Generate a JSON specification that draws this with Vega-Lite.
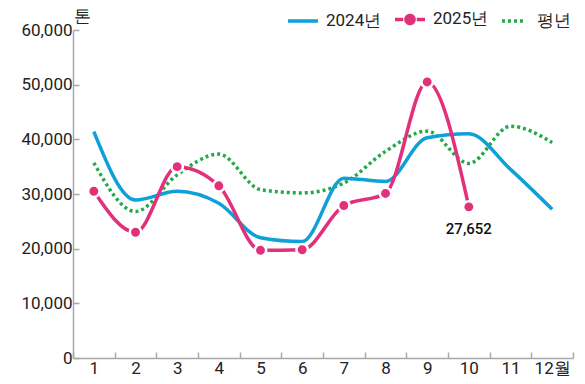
{
  "$schema": "https://vega.github.io/schema/vega-lite/v6.json",
  "width": 500,
  "height": 328,
  "autosize": {"type": "none"},
  "padding": {"left": 73, "top": 30, "right": 12, "bottom": 26},
  "config": {
    "view": {"stroke": null},
    "font": "Roboto",
    "axis": {
      "labelFont": "Roboto",
      "labelFontSize": 17,
      "labelColor": "#222222",
      "domainColor": "#a8a8a8",
      "domainWidth": 1.5,
      "tickColor": "#a8a8a8",
      "tickWidth": 1.5,
      "grid": false
    }
  },
  "data": {
    "values": [
      {"month": 1, "series": "2024년", "value": 41400},
      {"month": 2, "series": "2024년", "value": 28900},
      {"month": 3, "series": "2024년", "value": 30500},
      {"month": 4, "series": "2024년", "value": 28300},
      {"month": 5, "series": "2024년", "value": 22000},
      {"month": 6, "series": "2024년", "value": 21300},
      {"month": 7, "series": "2024년", "value": 32900},
      {"month": 8, "series": "2024년", "value": 32300},
      {"month": 9, "series": "2024년", "value": 40300},
      {"month": 10, "series": "2024년", "value": 41000},
      {"month": 11, "series": "2024년", "value": 34500},
      {"month": 12, "series": "2024년", "value": 27200},
      {"month": 1, "series": "2025년", "value": 30500},
      {"month": 2, "series": "2025년", "value": 23000},
      {"month": 3, "series": "2025년", "value": 35000},
      {"month": 4, "series": "2025년", "value": 31500},
      {"month": 5, "series": "2025년", "value": 19700},
      {"month": 6, "series": "2025년", "value": 19800},
      {"month": 7, "series": "2025년", "value": 27900},
      {"month": 8, "series": "2025년", "value": 30100},
      {"month": 9, "series": "2025년", "value": 50500},
      {"month": 10, "series": "2025년", "value": 27652},
      {"month": 1, "series": "평년", "value": 35700},
      {"month": 2, "series": "평년", "value": 26800},
      {"month": 3, "series": "평년", "value": 33500},
      {"month": 4, "series": "평년", "value": 37300},
      {"month": 5, "series": "평년", "value": 30800},
      {"month": 6, "series": "평년", "value": 30200},
      {"month": 7, "series": "평년", "value": 32000},
      {"month": 8, "series": "평년", "value": 37800},
      {"month": 9, "series": "평년", "value": 41500},
      {"month": 10, "series": "평년", "value": 35600},
      {"month": 11, "series": "평년", "value": 42400},
      {"month": 12, "series": "평년", "value": 39400}
    ]
  },
  "encoding": {
    "x": {
      "field": "month",
      "type": "ordinal",
      "bandPosition": 0.5,
      "scale": {"type": "band", "paddingInner": 0, "paddingOuter": 0},
      "axis": {
        "title": null,
        "labelAngle": 0,
        "labelPadding": 8,
        "tickSize": -6,
        "tickBand": "extent",
        "tickExtra": false,
        "labelExpr": "datum.value == 12 ? '12월' : datum.label"
      }
    },
    "y": {
      "field": "value",
      "type": "quantitative",
      "scale": {"domain": [0, 60000], "nice": false},
      "axis": {
        "values": [0, 10000, 20000, 30000, 40000, 50000, 60000],
        "format": ",.0f",
        "tickSize": -6,
        "labelPadding": 7,
        "title": "톤",
        "titleAngle": 0,
        "titleX": 0,
        "titleY": -14,
        "titleAlign": "left",
        "titleBaseline": "middle",
        "titleFont": "Roboto",
        "titleFontSize": 17,
        "titleFontWeight": "normal",
        "titleColor": "#222222"
      }
    }
  },
  "layer": [
    {
      "transform": [{"filter": "datum.series === '평년'"}],
      "mark": {"type": "line", "interpolate": "monotone", "strokeWidth": 3.5, "strokeDash": [3, 3]},
      "encoding": {
        "color": {
          "field": "series",
          "type": "nominal",
          "scale": {"domain": ["2024년", "2025년", "평년"], "range": ["#0ea0d8", "#e2307b", "#23a94a"]},
          "legend": {
            "title": null,
            "orient": "none",
            "direction": "horizontal",
            "legendX": 213,
            "legendY": -28,
            "symbolSize": 900,
            "symbolStrokeWidth": 3.5,
            "labelFont": "Roboto",
            "labelFontSize": 17,
            "labelColor": "#222222",
            "labelOffset": 6,
            "columnPadding": 6,
            "encode": {
              "symbols": {
                "update": {
                  "shape": {"signal": "datum.value === '2025년' ? 'M-1,0H-0.45M0.45,0H1M0.27,0A0.27,0.27,0,1,1,-0.27,0A0.27,0.27,0,1,1,0.27,0Z' : datum.value === '평년' ? 'M-0.8,0H0.8' : 'M-1,0H1'"},
                  "fill": {"signal": "datum.value === '2025년' ? '#e2307b' : 'transparent'"},
                  "strokeDash": {"signal": "datum.value === '평년' ? [3, 3] : [1, 0]"}
                }
              }
            }
          }
        }
      }
    },
    {
      "transform": [{"filter": "datum.series === '2024년'"}],
      "mark": {"type": "line", "interpolate": "monotone", "strokeWidth": 3.5},
      "encoding": {"color": {"field": "series", "type": "nominal"}}
    },
    {
      "transform": [{"filter": "datum.series === '2025년'"}],
      "mark": {"type": "line", "interpolate": "monotone", "strokeWidth": 3.5},
      "encoding": {"color": {"field": "series", "type": "nominal"}}
    },
    {
      "transform": [{"filter": "datum.series === '2025년'"}],
      "mark": {"type": "point", "filled": true, "size": 130, "color": "#e2307b", "stroke": "white", "strokeWidth": 2.5, "opacity": 1}
    },
    {
      "transform": [{"filter": "datum.series === '2025년' && datum.month === 10"}],
      "mark": {"type": "text", "dy": 22, "fontSize": 15, "font": "Roboto", "fontWeight": 500, "color": "#111111"},
      "encoding": {"text": {"field": "value", "type": "quantitative", "format": ","}}
    }
  ]
}
